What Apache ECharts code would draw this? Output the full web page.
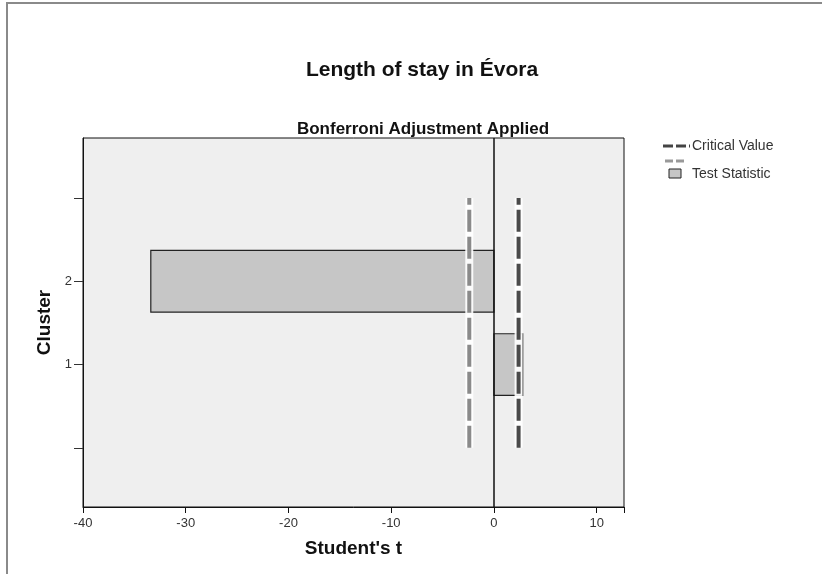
<!DOCTYPE html>
<html>
<head>
<meta charset="utf-8">
<script src="https://cdn.jsdelivr.net/npm/echarts@6/dist/echarts.min.js"></script>
<style>html,body{margin:0;padding:0;background:#fff;}#c{width:822px;height:574px;}</style>
</head>
<body>
<div id="c"></div>
<script>
// Data
const clusters = [1, 2];
const testStatistic = [2.8, -33.4];
const criticalValues = [-2.4, 2.4];
const criticalSpan = [0, 3];
const xTicks = [-40, -30, -20, -10, 0, 10];
const yLabelValues = [1, 2];
const yTickValues = [0, 1, 2, 3];
const legendNames = ['Critical Value', 'Test Statistic'];

const chart = echarts.init(document.getElementById('c'), null, {renderer: 'canvas'});
const FONT = '"Liberation Sans", Arial, sans-serif';
const barHalf = 0.37;

const option = {
  backgroundColor: '#ffffff',
  animation: false,
  title: [
    {text: 'Length of stay in Évora', left: 417, top: 55, textAlign: 'center',
     textStyle: {fontFamily: FONT, fontSize: 21, fontWeight: 'bold', color: '#111'}},
    {text: 'Bonferroni Adjustment Applied', left: 418, top: 116, textAlign: 'center',
     textStyle: {fontFamily: FONT, fontSize: 17, fontWeight: 'bold', color: '#111'}}
  ],
  grid: {left: 83, right: 198, top: 138, bottom: 67, show: true, backgroundColor: '#efefef',
         borderColor: '#111', borderWidth: 1},
  xAxis: {
    type: 'value', min: -40, max: 12.66, interval: 10,
    name: "Student's t", nameLocation: 'middle', nameGap: 32,
    nameTextStyle: {fontFamily: FONT, fontSize: 19, fontWeight: 'bold', color: '#111'},
    axisLine: {show: true, onZero: false, lineStyle: {color: '#111', width: 1}},
    axisTick: {show: true, length: 6, lineStyle: {color: '#111'}},
    axisLabel: {fontFamily: FONT, fontSize: 13, color: '#333', margin: 10,
      formatter: v => (xTicks.indexOf(v) >= 0 ? String(v) : '')},
    splitLine: {show: false}
  },
  yAxis: {
    type: 'value', min: -0.71, max: 3.72,
    name: 'Cluster', nameLocation: 'middle', nameGap: 23,
    nameTextStyle: {fontFamily: FONT, fontSize: 19, fontWeight: 'bold', color: '#111'},
    axisLine: {show: true, onZero: false, lineStyle: {color: '#111', width: 1}},
    axisTick: {show: true, length: 9, customValues: yTickValues, lineStyle: {color: '#333'}},
    axisLabel: {fontFamily: FONT, fontSize: 13, color: '#333', margin: 11, customValues: yLabelValues},
    splitLine: {show: false}
  },
  series: [
    {
      name: legendNames[1], type: 'custom',
      data: clusters.map((c, i) => [testStatistic[i], c]),
      renderItem: function (params, api) {
        const t = api.value(0), c = api.value(1);
        const p1 = api.coord([Math.min(0, t), c + barHalf]);
        const p2 = api.coord([Math.max(0, t), c - barHalf]);
        return {type: 'rect', shape: {x: p1[0], y: p1[1], width: p2[0] - p1[0], height: p2[1] - p1[1]},
                style: {fill: '#c6c6c6', stroke: '#222', lineWidth: 1.2}};
      },
      z: 2,
      markLine: {
        silent: true, symbol: 'none', label: {show: false},
        lineStyle: {color: '#111', width: 1.5, type: 'solid'},
        data: [{xAxis: 0}]
      }
    },
    {
      name: legendNames[0], type: 'custom',
      data: criticalValues.map(v => [v, criticalSpan[0], criticalSpan[1]]),
      renderItem: function (params, api) {
        const v = api.value(0);
        const a = api.coord([v, api.value(1)]);
        const b = api.coord([v, api.value(2)]);
        const col = v < 0 ? '#8a8a8a' : '#4a4a4a';
        return {type: 'group', children: [
          {type: 'line', shape: {x1: a[0], y1: a[1], x2: b[0], y2: b[1]},
           style: {stroke: 'rgba(255,255,255,0.9)', lineWidth: 8}},
          {type: 'line', shape: {x1: a[0], y1: a[1], x2: b[0], y2: b[1]},
           style: {stroke: col, lineWidth: 4, lineDash: [22, 5]}}
        ]};
      },
      z: 3
    }
  ],
  graphic: [
    {type: 'polyline', shape: {points: [[7, 574], [7, 3], [822, 3]]},
     style: {stroke: '#8a8a8a', lineWidth: 2, fill: null}, silent: true},
    // legend
    {type: 'line', silent: true, shape: {x1: 663, y1: 146, x2: 690, y2: 146},
     style: {stroke: '#444', lineWidth: 3, lineDash: [10, 3]}},
    {type: 'line', silent: true, shape: {x1: 665, y1: 161, x2: 684, y2: 161},
     style: {stroke: '#999', lineWidth: 3, lineDash: [8, 3]}},
    {type: 'text', silent: true, x: 692, y: 146,
     style: {text: legendNames[0], fontFamily: FONT, fontSize: 14, fill: '#333', verticalAlign: 'middle'}},
    {type: 'rect', silent: true, shape: {x: 669, y: 169, width: 12, height: 9},
     style: {fill: '#c6c6c6', stroke: '#222', lineWidth: 1}},
    {type: 'text', silent: true, x: 692, y: 174,
     style: {text: legendNames[1], fontFamily: FONT, fontSize: 14, fill: '#333', verticalAlign: 'middle'}}
  ]
};
chart.setOption(option);
</script>
</body>
</html>
